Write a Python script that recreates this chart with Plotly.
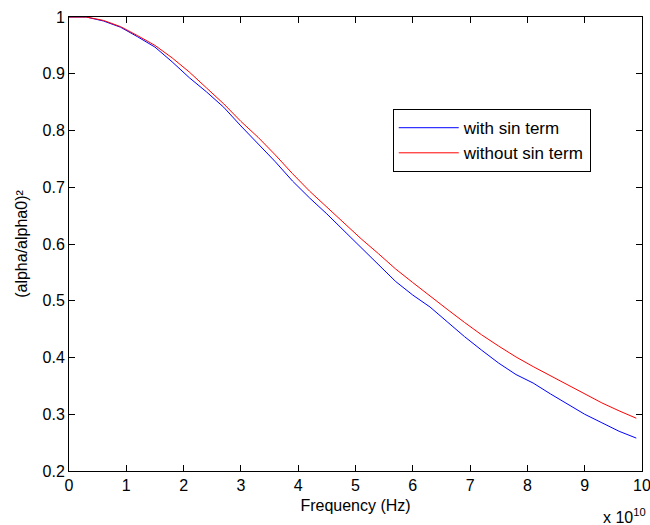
import numpy as np
import plotly.graph_objects as go

# Frequency samples (units of 1e10 Hz)
freq = [0.0, 0.3, 0.6, 0.9, 1.2, 1.5, 1.8, 2.1, 2.4, 2.7, 3.0, 3.3, 3.6, 3.9, 4.2, 4.5, 4.8,
        5.1, 5.4, 5.7, 6.0, 6.3, 6.6, 6.9, 7.2, 7.5, 7.8, 8.1, 8.4, 8.7, 9.0, 9.3, 9.6, 9.9]

# (alpha/alpha0)^2 with the sin term included
with_sin = [1.000, 1.000, 0.993, 0.982, 0.965, 0.947, 0.921, 0.893, 0.868, 0.841, 0.808,
            0.777, 0.745, 0.711, 0.681, 0.653, 0.623, 0.594, 0.563, 0.534, 0.510, 0.489,
            0.463, 0.437, 0.413, 0.390, 0.370, 0.355, 0.336, 0.318, 0.300, 0.285, 0.270, 0.258]

# (alpha/alpha0)^2 without the sin term
without_sin = [1.000, 1.000, 0.994, 0.983, 0.967, 0.950, 0.928, 0.903, 0.875, 0.847, 0.816,
               0.788, 0.757, 0.724, 0.693, 0.665, 0.636, 0.609, 0.583, 0.556, 0.532, 0.508,
               0.485, 0.462, 0.440, 0.420, 0.401, 0.384, 0.368, 0.352, 0.336, 0.320, 0.306, 0.293]

x_ticks = list(range(0, 11))
y_ticks = [0.2, 0.3, 0.4, 0.5, 0.6, 0.7, 0.8, 0.9, 1.0]
y_tick_labels = ["0.2", "0.3", "0.4", "0.5", "0.6", "0.7", "0.8", "0.9", "1"]

FONT = "Liberation Sans, Arial, Helvetica, sans-serif"

fig = go.Figure()
fig.add_trace(go.Scatter(x=freq, y=with_sin, mode="lines", name="with sin term",
                         line=dict(color="#0000FF", width=1)))
fig.add_trace(go.Scatter(x=freq, y=without_sin, mode="lines", name="without sin term",
                         line=dict(color="#FF0000", width=1)))

axis_common = dict(
    showgrid=False, zeroline=False,
    showline=True, linecolor="black", linewidth=1, mirror="ticks",
    ticks="inside", ticklen=6, tickcolor="black", tickwidth=1,
    tickfont=dict(family=FONT, size=16, color="black"),
    ticklabeloverflow="allow",
    automargin=False,
)

fig.update_xaxes(range=[0, 10], tickmode="array", tickvals=x_ticks,
                 ticktext=[str(v) for v in x_ticks],
                 title=dict(text="Frequency (Hz)", standoff=6,
                            font=dict(family=FONT, size=16, color="black")),
                 **axis_common)
fig.update_yaxes(range=[0.2, 1.0], tickmode="array", tickvals=y_ticks,
                 ticktext=y_tick_labels,
                 title=dict(text="(alpha/alpha0)²", standoff=10,
                            font=dict(family=FONT, size=16, color="black")),
                 **axis_common)

# Exponent of the x-axis scale
fig.add_annotation(text="x 10<sup>10</sup>", xref="paper", yref="paper",
                   x=1.011, y=-0.099, xanchor="right", yanchor="middle",
                   showarrow=False, font=dict(family=FONT, size=16, color="black"))

fig.update_layout(
    width=650, height=525,
    margin=dict(l=69, r=8, t=17, b=54, autoexpand=False),
    paper_bgcolor="white", plot_bgcolor="white",
    font=dict(family=FONT, size=16, color="black"),
    legend=dict(x=0.565, y=0.797, xanchor="left", yanchor="top",
                bgcolor="white", bordercolor="black", borderwidth=1,
                font=dict(family=FONT, size=17, color="black"),
                itemwidth=60, tracegroupgap=0),
    showlegend=True,
)

fig.write_html("out.html")
